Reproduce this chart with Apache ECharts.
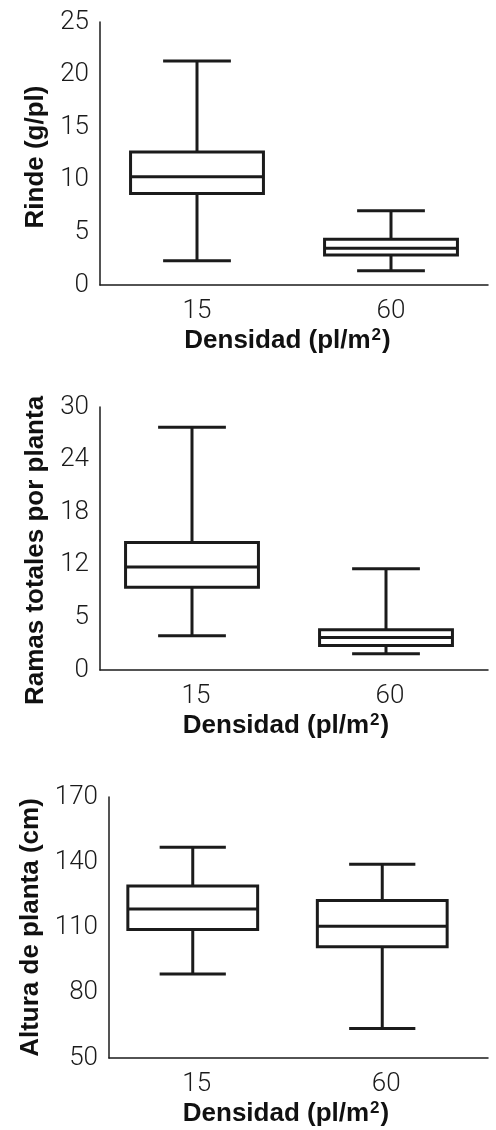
<!DOCTYPE html>
<html>
<head>
<meta charset="utf-8">
<script src="https://cdn.jsdelivr.net/npm/echarts@6/dist/echarts.min.js"></script>
<style>
  html, body { margin: 0; padding: 0; background: #fff; }
  #chart { width: 496px; height: 1130px; }
</style>
</head>
<body>
<div id="chart"></div>
<script>
// ---- data (low whisker, Q1, median, Q3, high whisker) ----
const categories = ['15', '60'];
const rinde15 = [2.3, 8.7, 10.3, 12.65, 21.3];
const rinde60 = [1.35, 2.85, 3.5, 4.35, 7.05];
const ramas15 = [3.9, 9.45, 11.75, 14.55, 27.7];
const ramas60 = [1.85, 2.8, 3.7, 4.6, 11.55];
const altura15 = [88.6, 109.1, 118.5, 129.1, 146.9];
const altura60 = [63.6, 101.2, 110.6, 122.4, 139.1];
const rindeTicks = ['0', '5', '10', '15', '20', '25'];
const ramasTicks = ['0', '5', '12', '18', '24', '30'];
const alturaTicks = ['50', '80', '110', '140', '170'];
const xTitle = 'Densidad (pl/m{s|2})';
const yTitles = ['Rinde (g/pl)', 'Ramas totales por planta', 'Altura de planta (cm)'];

const INK = '#1b1b1b';
const tickFont = { fontFamily: 'Roboto, "Open Sans", sans-serif', fontWeight: 300, fontSize: 26, color: '#1a1a1a' };
const titleFamily = '"Liberation Sans", Arial, sans-serif';
const titleFont = { fontFamily: titleFamily, fontWeight: 'bold', fontSize: 26, color: '#111', lineHeight: 30 };

function makeRender(offsetX) {
  return function (params, api) {
    const x = api.value(0);
    const lo = api.coord([x, api.value(1)]);
    const q1 = api.coord([x, api.value(2)]);
    const md = api.coord([x, api.value(3)]);
    const q3 = api.coord([x, api.value(4)]);
    const hi = api.coord([x, api.value(5)]);
    const band = api.size([1, 0])[0];
    const bw = band * 0.685;
    const cw = bw * 0.51;
    const cx = lo[0] + offsetX;
    const st = { stroke: INK, lineWidth: 3, fill: null, lineCap: 'butt' };
    return {
      type: 'group',
      children: [
        { type: 'line', shape: { x1: cx, y1: hi[1], x2: cx, y2: q3[1] }, style: st },
        { type: 'line', shape: { x1: cx, y1: q1[1], x2: cx, y2: lo[1] }, style: st },
        { type: 'line', shape: { x1: cx - cw / 2, y1: hi[1], x2: cx + cw / 2, y2: hi[1] }, style: st },
        { type: 'line', shape: { x1: cx - cw / 2, y1: lo[1], x2: cx + cw / 2, y2: lo[1] }, style: st },
        { type: 'rect', shape: { x: cx - bw / 2, y: q3[1], width: bw, height: q1[1] - q3[1] }, style: Object.assign({}, st, { fill: '#fff' }) },
        { type: 'line', shape: { x1: cx - bw / 2, y1: md[1], x2: cx + bw / 2, y2: md[1] }, style: st }
      ]
    };
  };
}

const grids = [
  { left: 100, top: 22, width: 388, height: 263 },
  { left: 100, top: 407, width: 388, height: 263 },
  { left: 109, top: 797, width: 379, height: 264 }
];

function xAxisFor(i, labelPad, namePad) {
  return {
    gridIndex: i, type: 'category', data: categories,
    axisLine: { lineStyle: { color: INK, width: 1.5 } },
    axisTick: { show: false },
    axisLabel: Object.assign({ margin: 13, padding: labelPad }, tickFont),
    splitLine: { show: false },
    name: xTitle, nameLocation: 'middle', nameGap: 41,
    nameTextStyle: Object.assign({
      padding: namePad,
      rich: {
        s: { fontFamily: titleFamily, fontWeight: 'bold', fontSize: 17, color: '#111',
             lineHeight: 17, verticalAlign: 'top', padding: [1, 1, 0, 1] }
      }
    }, titleFont)
  };
}

function yAxisFor(i, min, max, interval, ticks, tickStep, namePad, gap) {
  return {
    gridIndex: i, type: 'value', min: min, max: max, interval: interval,
    axisLine: { show: true, lineStyle: { color: INK, width: 1.5 } },
    axisTick: { show: false },
    splitLine: { show: false },
    axisLabel: Object.assign({
      margin: 11,
      formatter: function (v) {
        const k = Math.round((v - min) / tickStep);
        if (Math.abs(min + k * tickStep - v) > 1e-6) return '';
        return ticks[k] !== undefined ? ticks[k] : '';
      }
    }, tickFont),
    name: yTitles[i], nameLocation: 'middle', nameRotate: 90, nameGap: gap,
    nameTextStyle: Object.assign({ padding: namePad }, titleFont, { lineHeight: 26 })
  };
}

const option = {
  animation: false,
  backgroundColor: '#fff',
  grid: grids,
  xAxis: [
    xAxisFor(0, [0, 0, 0, 0], [0, 13, 0, 0]),
    xAxisFor(1, [0, 2, 0, 0], [0, 16, 0, 0]),
    xAxisFor(2, [0, 14, 0, 0], [0, 25, 0, 0])
  ],
  yAxis: [
    yAxisFor(0, 0, 25, 5, rindeTicks, 5, [0, 7, 0, 0], 50),
    yAxisFor(1, 0, 30, 6, ramasTicks, 6, [0, 24, 0, 0], 50),
    yAxisFor(2, 50, 170, 10, alturaTicks, 30, [0, 0, 0, 0], 59)
  ],
  series: [
    { type: 'custom', xAxisIndex: 0, yAxisIndex: 0, renderItem: makeRender(0),
      encode: { x: 0, y: [1, 2, 3, 4, 5] },
      data: [[0].concat(rinde15), [1].concat(rinde60)] },
    { type: 'custom', xAxisIndex: 1, yAxisIndex: 1, renderItem: makeRender(-5),
      encode: { x: 0, y: [1, 2, 3, 4, 5] },
      data: [[0].concat(ramas15), [1].concat(ramas60)] },
    { type: 'custom', xAxisIndex: 2, yAxisIndex: 2, renderItem: makeRender(-11),
      encode: { x: 0, y: [1, 2, 3, 4, 5] },
      data: [[0].concat(altura15), [1].concat(altura60)] }
  ]
};

const chart = echarts.init(document.getElementById('chart'), null, { renderer: 'canvas' });
chart.setOption(option);
</script>
</body>
</html>
